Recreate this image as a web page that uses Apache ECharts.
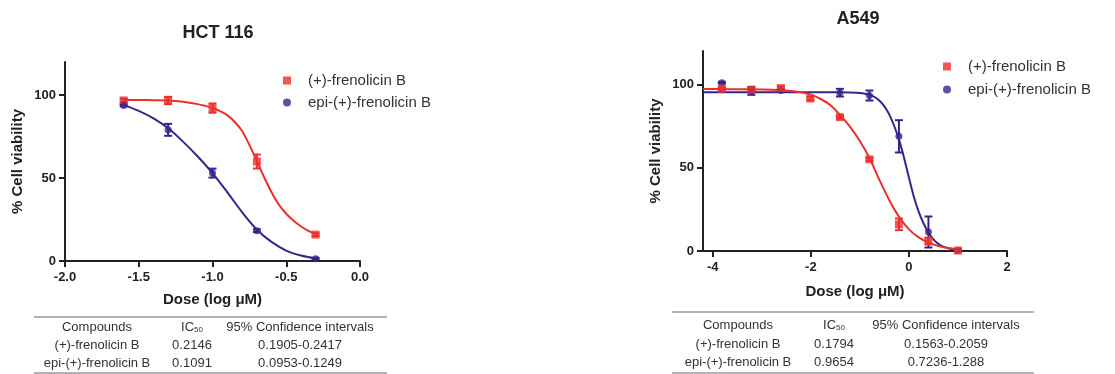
<!DOCTYPE html>
<html>
<head>
<meta charset="utf-8">
<script src="https://cdn.jsdelivr.net/npm/echarts@6/dist/echarts.min.js"></script>
<style>
  html, body { margin: 0; padding: 0; background: #fff; }
  #chart { width: 1115px; height: 374px; }
</style>
</head>
<body>
<div id="chart"></div>
<script>
// HCT 116 - dose (log uM) and % viability
var hctDose = [-1.602, -1.301, -1.0, -0.699, -0.301];
var hctRed = [96.8, 96.8, 92.2, 60.0, 15.9];
var hctRedErr = [1.0, 2.2, 2.8, 4.2, 0.8];
var hctBlue = [93.8, 79.1, 53.0, 18.3, 1.4];
var hctBlueErr = [0.5, 3.6, 2.7, 0.8, 0.5];

// fitted curves
var hctRedFitX = [-1.6, -1.5, -1.4, -1.3, -1.2, -1.1, -1.05, -1.0, -0.95, -0.9, -0.85, -0.8, -0.75, -0.7, -0.65, -0.6, -0.55, -0.5, -0.45, -0.4, -0.35, -0.3];
var hctRedFitY = [97.2, 97.1, 97.0, 96.8, 96.0, 94.6, 93.6, 92.4, 90.4, 88.0, 84.0, 78.5, 70.0, 60.5, 50.5, 41.5, 34.0, 28.5, 24.2, 20.8, 18.2, 16.3];
var hctBlueFitX = [-1.6, -1.5, -1.4, -1.3, -1.2, -1.1, -1.0, -0.9, -0.8, -0.7, -0.6, -0.5, -0.4, -0.3];
var hctBlueFitY = [94.0, 90.5, 86.0, 80.0, 72.0, 63.0, 53.0, 41.5, 29.5, 19.0, 11.5, 6.3, 3.3, 1.5];

// A549
var aDose = [-3.816, -3.214, -2.612, -2.010, -1.408, -0.806, -0.204, 0.398, 1.0];
var aRed = [97.4, 96.8, 97.7, 91.5, 80.3, 55.0, 16.0, 6.0, 0.3];
var aRedErr = [0.8, 0.5, 1.0, 1.0, 0.8, 0.8, 3.5, 2.0, 0.5];
var aBlue = [101.0, 96.0, 96.3, null, 95.0, 93.3, 68.8, 11.4, 0.3];
var aBlueErr = [0.5, 2.3, 0.8, null, 2.3, 3.0, 9.7, 9.3, 0.5];

var aRedFitX = [-4.2, -3.6, -3.0, -2.6, -2.4, -2.2, -2.0, -1.8, -1.6, -1.4, -1.2, -1.0, -0.8, -0.6, -0.4, -0.2, 0.0, 0.2, 0.4, 0.6, 0.8, 1.0];
var aRedFitY = [97.2, 97.1, 96.9, 96.5, 96.0, 95.2, 93.8, 91.2, 87.5, 81.5, 74.5, 66.0, 55.5, 42.5, 30.5, 20.5, 13.0, 8.2, 5.0, 3.0, 1.8, 1.0];
var aBlueFitX = [-4.2, -3.0, -2.0, -1.4, -1.2, -1.0, -0.9, -0.8, -0.7, -0.6, -0.5, -0.4, -0.3, -0.2, -0.1, 0.0, 0.1, 0.2, 0.3, 0.4, 0.5, 0.6, 0.7, 0.8, 0.9, 1.0];
var aBlueFitY = [95.3, 95.3, 95.3, 95.2, 95.1, 94.8, 94.4, 93.7, 92.4, 90.2, 86.8, 81.8, 75.0, 66.5, 56.0, 44.0, 32.5, 23.5, 16.5, 11.0, 7.0, 4.3, 2.6, 1.6, 1.0, 0.6];

var hctXTicks = [-2, -1.5, -1, -0.5, 0];
var aXTicks = [-4, -2, 0, 2];
var yTicks = [0, 50, 100];

var compounds = ['(+)-frenolicin B', 'epi-(+)-frenolicin B'];
var hctIC50 = ['0.2146', '0.1091'];
var hctCI = ['0.1905-0.2417', '0.0953-0.1249'];
var aIC50 = ['0.1794', '0.9654'];
var aCI = ['0.1563-0.2059', '0.7236-1.288'];

var RED = '#ec2f2c';
var BLUE = '#35258c';
var FONT = 'Liberation Sans, Arial, sans-serif';

function pairs(xs, ys) {
    var out = [];
    for (var i = 0; i < xs.length; i++) {
        if (ys[i] != null) out.push([xs[i], ys[i]]);
    }
    return out;
}

function errData(xs, ys, es) {
    var out = [];
    for (var i = 0; i < xs.length; i++) {
        if (ys[i] != null) out.push([xs[i], ys[i] - es[i], ys[i] + es[i]]);
    }
    return out;
}

function errSeries(name, xs, ys, es, color, idx) {
    return {
        name: name,
        type: 'custom',
        xAxisIndex: idx,
        yAxisIndex: idx,
        data: errData(xs, ys, es),
        z: 4,
        silent: true,
        renderItem: function (params, api) {
            var lo = api.coord([api.value(0), api.value(1)]);
            var hi = api.coord([api.value(0), api.value(2)]);
            var w = 4;
            var st = { stroke: color, lineWidth: 2 };
            return {
                type: 'group',
                children: [
                    { type: 'line', shape: { x1: lo[0], y1: lo[1], x2: hi[0], y2: hi[1] }, style: st },
                    { type: 'line', shape: { x1: lo[0] - w, y1: lo[1], x2: lo[0] + w, y2: lo[1] }, style: st },
                    { type: 'line', shape: { x1: hi[0] - w, y1: hi[1], x2: hi[0] + w, y2: hi[1] }, style: st }
                ]
            };
        }
    };
}

function fitSeries(name, xs, ys, color, idx) {
    return {
        name: name,
        type: 'line',
        xAxisIndex: idx,
        yAxisIndex: idx,
        data: pairs(xs, ys),
        smooth: 0.3,
        showSymbol: false,
        symbol: 'none',
        itemStyle: { color: color },
        lineStyle: { color: color, width: 2 },
        z: 2,
        silent: true
    };
}

function dotSeries(name, xs, ys, color, sym, size, idx) {
    return {
        name: name,
        type: 'scatter',
        xAxisIndex: idx,
        yAxisIndex: idx,
        data: pairs(xs, ys),
        symbol: sym,
        symbolSize: size,
        itemStyle: { color: color },
        z: 5
    };
}

function xAxisFor(idx, min, max, ticks, digits, gap) {
    return {
        gridIndex: idx,
        type: 'value',
        min: min,
        max: max,
        name: 'Dose (log \u03bcM)',
        nameLocation: 'middle',
        nameGap: gap,
        nameTextStyle: { fontFamily: FONT, fontSize: 15, fontWeight: 'bold', color: '#222' },
        axisLine: { onZero: false, lineStyle: { color: '#222', width: 2 } },
        axisTick: { show: true, length: 6, lineStyle: { color: '#222', width: 2 }, customValues: ticks },
        axisLabel: {
            customValues: ticks, margin: 10, color: '#222', fontFamily: FONT, fontSize: 13, fontWeight: 'bold',
            formatter: function (v) { return Number(v).toFixed(digits); }
        },
        splitLine: { show: false }
    };
}

function yAxisFor(idx, gap) {
    return {
        gridIndex: idx,
        type: 'value',
        min: 0,
        max: 120,
        name: '% Cell viability',
        nameLocation: 'middle',
        nameGap: gap,
        nameRotate: 90,
        nameTextStyle: { fontFamily: FONT, fontSize: 15, fontWeight: 'bold', color: '#222' },
        axisLine: { show: true, onZero: false, lineStyle: { color: '#222', width: 2 } },
        axisTick: { show: true, length: 6, lineStyle: { color: '#222', width: 2 }, customValues: yTicks },
        axisLabel: { customValues: yTicks, margin: 9, color: '#222', fontFamily: FONT, fontSize: 13, fontWeight: 'bold' },
        splitLine: { show: false }
    };
}

// table drawn as graphic elements
function tableGraphic(x1, x2, topY, rowYs, cols, ic50, ci) {
    var els = [];
    var lineStyle = { stroke: '#666', lineWidth: 1 };
    var textFont = { fontFamily: FONT, fontSize: 13, fill: '#333' };
    els.push({ type: 'line', shape: { x1: x1, y1: topY, x2: x2, y2: topY }, style: lineStyle });
    els.push({ type: 'line', shape: { x1: x1, y1: rowYs[3], x2: x2, y2: rowYs[3] }, style: lineStyle });
    function txt(s, x, y) {
        els.push({ type: 'text', x: x, y: y, style: Object.assign({ text: s, align: 'center', verticalAlign: 'middle' }, textFont) });
    }
    txt('Compounds', cols[0], rowYs[0]);
    els.push({
        type: 'text', x: cols[1], y: rowYs[0],
        style: {
            text: '{n|IC}{s|50}', align: 'center', verticalAlign: 'middle',
            rich: {
                n: { fontFamily: FONT, fontSize: 13, fill: '#333' },
                s: { fontFamily: FONT, fontSize: 8, fill: '#333', padding: [6, 0, 0, 0] }
            }
        }
    });
    txt('95% Confidence intervals', cols[2], rowYs[0]);
    for (var i = 0; i < 2; i++) {
        txt(compounds[i], cols[0], rowYs[i + 1]);
        txt(ic50[i], cols[1], rowYs[i + 1]);
        txt(ci[i], cols[2], rowYs[i + 1]);
    }
    return els;
}

var chart = echarts.init(document.getElementById('chart'));

var legendBase = {
    orient: 'vertical',
    itemWidth: 32,
    itemHeight: 8,
    itemGap: 7,
    symbolKeepAspect: true,
    textStyle: { fontFamily: FONT, fontSize: 15, color: '#333' },
    selectedMode: false,
    data: [
        { name: '(+)-frenolicin B', icon: 'path://M0,0H10V10H0Z' },
        { name: 'epi-(+)-frenolicin B', icon: 'circle' }
    ]
};

var option = {
    backgroundColor: '#fff',
    animation: false,
    title: [
        { text: 'HCT 116', left: 213, top: 19, textAlign: 'center', textStyle: { fontFamily: FONT, fontSize: 18, fontWeight: 'bold', color: '#222' } },
        { text: 'A549', left: 853, top: 5, textAlign: 'center', textStyle: { fontFamily: FONT, fontSize: 18, fontWeight: 'bold', color: '#222' } }
    ],
    legend: [
        Object.assign({}, legendBase, { left: 278, top: 68 }),
        Object.assign({}, legendBase, { left: 938, top: 54, itemGap: 8 })
    ],
    grid: [
        { left: 65, top: 62, width: 295, height: 199 },
        { left: 703, top: 51, width: 304, height: 200 }
    ],
    xAxis: [
        xAxisFor(0, -2, 0, hctXTicks, 1, 31),
        xAxisFor(1, -4.2, 2, aXTicks, 0, 33)
    ],
    yAxis: [
        yAxisFor(0, 40),
        yAxisFor(1, 40)
    ],
    series: [
        dotSeries('(+)-frenolicin B', hctDose, hctRed, RED, 'rect', 8, 0),
        dotSeries('epi-(+)-frenolicin B', hctDose, hctBlue, BLUE, 'circle', 7, 0),
        fitSeries('fit-red-hct', hctRedFitX, hctRedFitY, RED, 0),
        fitSeries('fit-blue-hct', hctBlueFitX, hctBlueFitY, BLUE, 0),
        errSeries('err-red-hct', hctDose, hctRed, hctRedErr, RED, 0),
        errSeries('err-blue-hct', hctDose, hctBlue, hctBlueErr, BLUE, 0),

        dotSeries('epi-(+)-frenolicin B', aDose, aBlue, BLUE, 'circle', 7, 1),
        dotSeries('(+)-frenolicin B', aDose, aRed, RED, 'rect', 8, 1),
        fitSeries('fit-blue-a', aBlueFitX, aBlueFitY, BLUE, 1),
        fitSeries('fit-red-a', aRedFitX, aRedFitY, RED, 1),
        errSeries('err-blue-a', aDose, aBlue, aBlueErr, BLUE, 1),
        errSeries('err-red-a', aDose, aRed, aRedErr, RED, 1)
    ],
    graphic: tableGraphic(34, 387, 317, [327, 345, 363, 373], [97, 192, 300], hctIC50, hctCI)
        .concat(tableGraphic(672, 1034, 312, [325, 344, 362, 373], [738, 834, 946], aIC50, aCI))
};

chart.setOption(option);
</script>
</body>
</html>
